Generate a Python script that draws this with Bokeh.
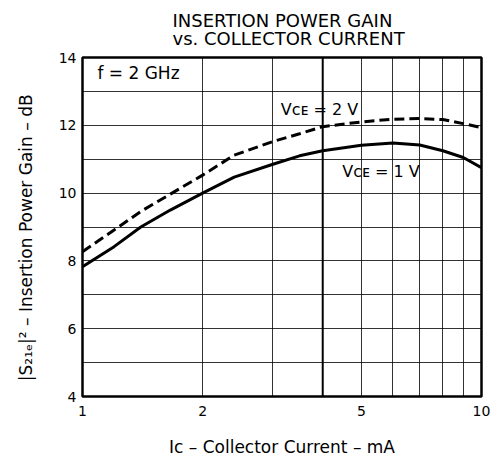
from bokeh.plotting import figure
from bokeh.models import Range1d, FixedTicker, Label, Span, ColumnDataSource, Title
from bokeh.embed import file_html
from bokeh.resources import INLINE

# ---- data ----
ic_ma = [1, 1.2, 1.4, 1.66, 2, 2.4, 3, 3.5, 4, 5, 6, 7, 8, 9, 10]
gain_vce1 = [7.83, 8.42, 9.0, 9.5, 10.0, 10.47, 10.85, 11.1, 11.25, 11.41, 11.48, 11.42, 11.25, 11.05, 10.75]
gain_vce2 = [8.27, 8.91, 9.46, 9.97, 10.53, 11.12, 11.52, 11.75, 11.96, 12.1, 12.18, 12.2, 12.17, 12.05, 11.93]
x_tick_values = [1, 2, 5, 10]
x_grid_values = [1, 2, 3, 4, 5, 6, 7, 8, 9, 10]
y_tick_values = [4, 6, 8, 10, 12, 14]
y_grid_values = [4, 5, 6, 7, 8, 9, 10, 11, 12, 13, 14]
title_lines = ["INSERTION POWER GAIN", "vs. COLLECTOR CURRENT"]

FONT = "DejaVu Sans"
W, H = 494, 460

p = figure(width=W, height=H, x_axis_type="log",
           x_range=Range1d(1, 10), y_range=Range1d(4, 14),
           output_backend="svg", toolbar_location=None,
           min_border_left=82, min_border_right=13, min_border_top=57, min_border_bottom=64)
p.title = Title(text="\n".join(title_lines), align="left", offset=90, standoff=12,
                vertical_align="top",
                text_font=FONT, text_font_size="18px", text_font_style="normal",
                text_line_height=0.9, text_color="black")
p.background_fill_color = "white"
p.border_fill_color = "white"
p.outline_line_color = "black"
p.outline_line_width = 2.5

# axes
p.xaxis.ticker = FixedTicker(ticks=x_tick_values)
p.yaxis.ticker = FixedTicker(ticks=y_tick_values)
p.xaxis.major_label_overrides = {v: str(v) for v in x_tick_values}
for ax in (p.xaxis, p.yaxis):
    ax.axis_line_color = None
    ax.major_tick_in = 0
    ax.major_tick_out = 0
    ax.minor_tick_in = 0
    ax.minor_tick_out = 0
    ax.major_label_text_font = FONT
    ax.major_label_text_font_size = "14px"
    ax.major_label_text_color = "black"
    ax.axis_label_text_font = FONT
    ax.axis_label_text_font_style = "normal"
    ax.axis_label_text_color = "black"
p.xaxis.major_label_standoff = 9
p.yaxis.major_label_standoff = 6
p.xaxis.axis_label = "Iᴄ – Collector Current – mA"
p.xaxis.axis_label_text_font_size = "17px"
p.xaxis.axis_label_standoff = 18
p.yaxis.axis_label = "|S₂₁ₑ|²  –  Insertion Power Gain  –  dB"
p.yaxis.axis_label_text_font_size = "17px"
p.yaxis.axis_label_standoff = 20

# grid
p.xgrid.ticker = FixedTicker(ticks=x_grid_values)
p.ygrid.ticker = FixedTicker(ticks=y_grid_values)
p.xgrid.grid_line_color = "black"
p.ygrid.grid_line_color = "black"
p.xgrid.grid_line_width = 1
p.ygrid.grid_line_width = 1
p.xgrid.grid_line_alpha = 0.8
p.ygrid.grid_line_alpha = 0.8
p.add_layout(Span(location=4, dimension="height", line_color="black", line_width=2))

# curves
src = ColumnDataSource(dict(x=ic_ma, v1=gain_vce1, v2=gain_vce2))
p.line("x", "v2", source=src, line_color="black", line_width=3, line_dash="10 5")
p.line("x", "v1", source=src, line_color="black", line_width=3)

# annotations
p.add_layout(Label(x=1.09, y=13.26, text="f = 2 GHz", text_font=FONT,
                   text_font_size="17px", text_color="black"))
p.add_layout(Label(x=3.14, y=12.2, text="Vᴄᴇ = 2 V", text_font=FONT,
                   text_font_size="16px", text_color="black"))
p.add_layout(Label(x=4.48, y=10.37, text="Vᴄᴇ = 1 V", text_font=FONT,
                   text_font_size="16px", text_color="black"))

open("out.html", "w").write(file_html(p, INLINE))
